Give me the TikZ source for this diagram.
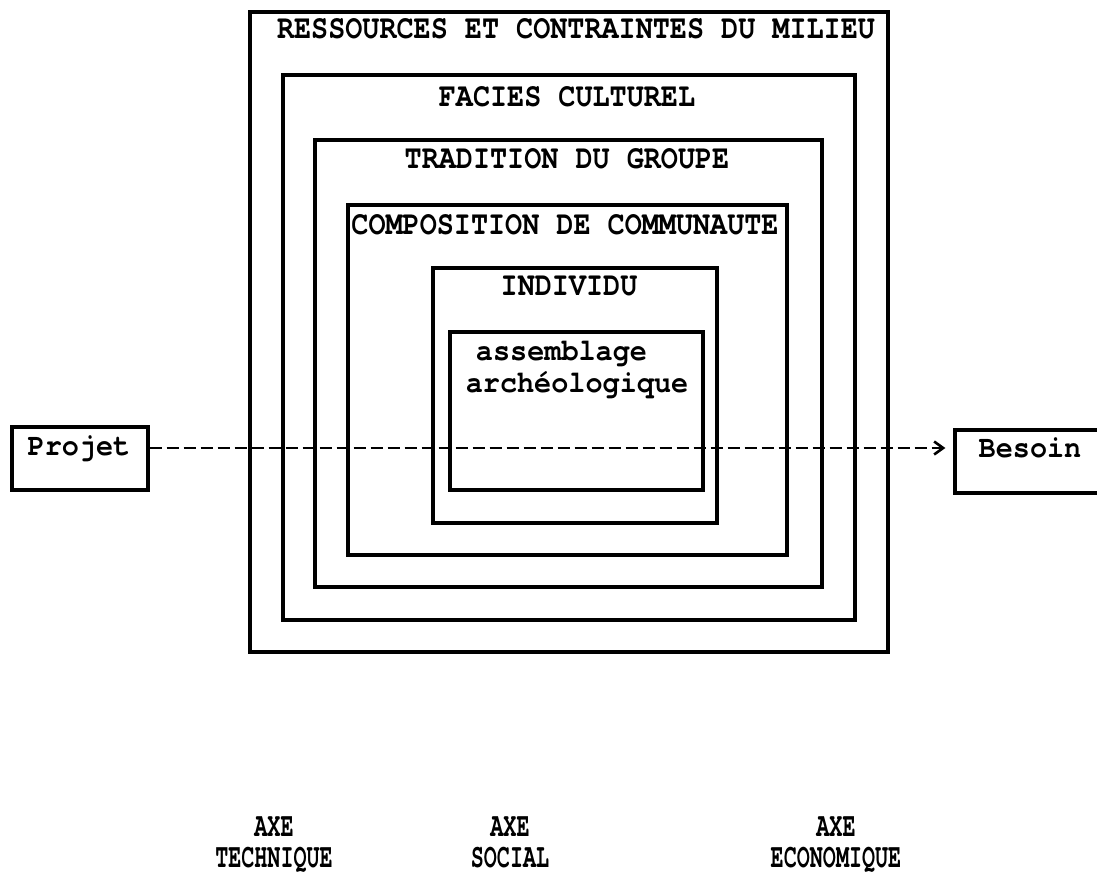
\documentclass[tikz,border=0pt]{standalone}
\usepackage{fontspec}
\newfontfamily\capfont{TeX Gyre Cursor}[FakeStretch=0.85]
\newfontfamily\lowfont{TeX Gyre Cursor}[FakeStretch=0.92]
\newfontfamily\axfont{TeX Gyre Cursor}[FakeStretch=0.64]
\usetikzlibrary{arrows.meta}
\begin{document}
\begin{tikzpicture}[x=1pt,y=-1pt,
  box/.style={draw=black, line width=3.3pt, rectangle, inner sep=0pt},
  lab/.style={inner sep=0pt, anchor=base, font=\capfont\bfseries\fontsize{33.5}{38}\selectfont},
  lowlab/.style={inner sep=0pt, anchor=base, font=\lowfont\bfseries\fontsize{31}{36}\selectfont},
  axlab/.style={inner sep=0pt, anchor=base, font=\axfont\bfseries\fontsize{34}{38}\selectfont},
  flow/.style={draw=black, line width=2.6pt, dash pattern=on 12pt off 5pt}
]
\useasboundingbox (0,0) rectangle (1097,878);
\fill[white] (0,0) rectangle (1097,878);
% nested boxes
\node[box, minimum width=638pt, minimum height=640pt] (outer) at (569,332) {};
\node[box, minimum width=572pt, minimum height=545pt] (facies) at (569,347.5) {};
\node[box, minimum width=507pt, minimum height=447pt] (tradition) at (568.5,363.5) {};
\node[box, minimum width=439pt, minimum height=350pt] (compo) at (567.5,380) {};
\node[box, minimum width=284pt, minimum height=255pt] (indiv) at (575,395.5) {};
\node[box, minimum width=253pt, minimum height=158pt] (assem) at (576.5,411) {};
% labels
\node[lab] (louter) at (576,38) {RESSOURCES ET CONTRAINTES DU MILIEU};
\node[lab] (lfacies) at (567,106) {FACIES CULTUREL};
\node[lab] (ltradition) at (567,168) {TRADITION DU GROUPE};
\node[lab] (lcompo) at (565,234) {COMPOSITION DE COMMUNAUTE};
\node[lab] (lindiv) at (569,295) {INDIVIDU};
\node[lowlab] (lassem1) at (561.5,360) {assemblage};
\node[lowlab] (lassem2) at (577,392) {archéologique};
% side boxes
\node[box, minimum width=136pt, minimum height=63pt] (projet) at (80,458.5) {};
\node[lowlab] (lprojet) at (79,455) {Projet};
\node[box, minimum width=155pt, minimum height=63pt] (besoin) at (1032.5,461.5) {};
\node[lowlab] (lbesoin) at (1030,457) {Besoin};
% dashed connector
\draw[flow, -{Straight Barb[length=9pt,width=13pt,line width=2.6pt]}, shorten >=8pt]
  ([yshift=10.5pt]projet.east) -- ([yshift=13.5pt]besoin.west);
% axes
\node[axlab] (ax1a) at (274,836) {AXE};
\node[axlab] (ax1b) at (274,867) {TECHNIQUE};
\node[axlab] (ax2a) at (510,836) {AXE};
\node[axlab] (ax2b) at (510,867) {SOCIAL};
\node[axlab] (ax3a) at (836,836) {AXE};
\node[axlab] (ax3b) at (836,867) {ECONOMIQUE};
\end{tikzpicture}
\end{document}
